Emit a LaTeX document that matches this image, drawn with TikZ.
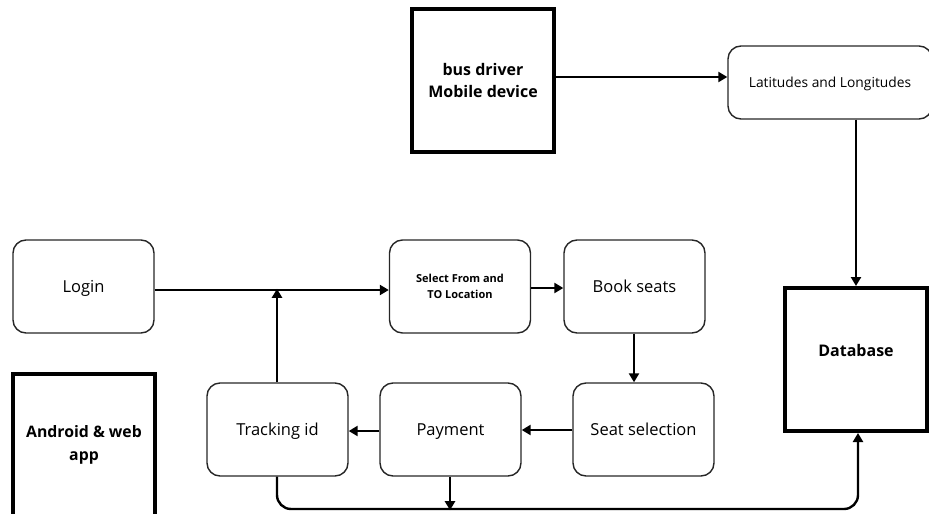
\documentclass[tikz,border=0pt]{standalone}
\usepackage{fontspec}
\setmainfont{Open Sans}
\usetikzlibrary{arrows.meta}
\begin{document}
\begin{tikzpicture}[x=1pt,y=-1pt,
  thickbox/.style={draw=black,line width=4pt,minimum width=142pt,minimum height=143pt,
    inner sep=0pt,align=center,font=\fontsize{16}{22}\selectfont\bfseries},
  stepbox/.style={draw=black!85,line width=1.4pt,rounded corners=13pt,minimum width=141pt,
    minimum height=93pt,inner sep=0pt,align=center,font=\fontsize{16.5}{20}\selectfont},
  capmid/.style={text height=11.8pt,text depth=0pt},
  flow/.style={line width=2.4pt,-{Triangle[length=9pt,width=10pt]}},
  wire/.style={line width=2.4pt}]
\useasboundingbox (0,0) rectangle (929,514);
\begin{scope}
\clip (0,0) rectangle (929,514);
% heavy framed blocks
\node[thickbox] (bus) at (483,80.5) {bus driver\\Mobile device};
\node[thickbox,text height=11.4pt,text depth=17pt] (db) at (856,359.5) {Database};
\node[thickbox,font=\fontsize{15.8}{23}\selectfont\bfseries] (app) at (84,445) {Android \& web\\app};
% rounded process steps
\node[stepbox,minimum width=204pt,minimum height=73pt,font=\fontsize{13.8}{16}\selectfont,
  text height=9.9pt,text depth=0pt] (lat) at (830,82.5) {Latitudes and Longitudes};
\node[stepbox,capmid] (login) at (83.5,286.5) {Login};
\node[stepbox,font=\fontsize{11}{16}\selectfont\bfseries] (sel) at (460,286.5) {Select From and\\TO Location};
\node[stepbox,capmid] (book) at (634.5,286.5) {Book seats};
\node[stepbox,capmid] (seat) at (643.5,429.5) {Seat selection};
\node[stepbox,capmid] (pay) at (450.5,429.5) {Payment};
\node[stepbox,capmid] (track) at (277.5,429.5) {Tracking id};
% junction points on the connectors
\coordinate (mid) at (277,290);
\coordinate (low) at (450,509);
% connectors
\draw[flow] (bus.east |- 0,77) -- (lat.west |- 0,77);
\draw[flow] (lat.south -| 856,0) -- (db.north -| 856,0);
\draw[flow] (login.east |- 0,290) -- (sel.west |- 0,290);
\draw[flow] (sel.east |- 0,288) -- (book.west |- 0,288);
\draw[flow] (book.south -| 634,0) -- (seat.north -| 634,0);
\draw[flow] (seat.west |- 0,430) -- (pay.east |- 0,430);
\draw[flow] (pay.west |- 0,431) -- (track.east |- 0,431);
\draw[flow] (track.north -| mid) -- ([yshift=1.2pt]mid);
\draw[flow,rounded corners=14pt] (track.south -| mid) -- (277,509) -- (858,509) -- (db.south -| 858,0);
\draw[flow] (pay.south -| low) -- ([yshift=-1.2pt]low);
\end{scope}
\end{tikzpicture}
\end{document}
